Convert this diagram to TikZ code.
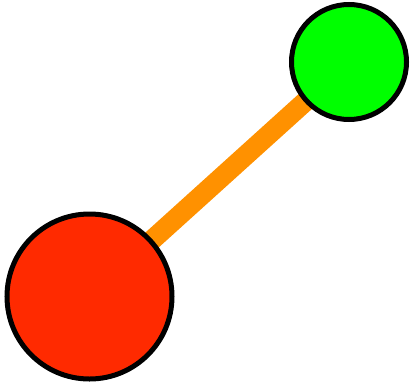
\documentclass[tikz,border=0pt]{standalone}
\usetikzlibrary{backgrounds}
\definecolor{ballred}{RGB}{255,42,0}
\definecolor{ballgreen}{RGB}{0,255,0}
\definecolor{linkorange}{RGB}{255,145,0}
\tikzset{
  ball/.style={circle,draw=black,line width=5pt,inner sep=0pt},
  link/.style={draw=linkorange,line width=20pt}
}
\begin{document}
\begin{tikzpicture}[x=1pt,y=1pt]
\useasboundingbox (0,0) rectangle (411,381);

\node[ball,fill=ballred,minimum size=165pt] (big) at (89.5,84.5) {};
\node[ball,fill=ballgreen,minimum size=115pt] (small) at (349,319) {};

\begin{scope}[on background layer]
\draw[link] (big.center) -- (small.center);
\end{scope}

\end{tikzpicture}
\end{document}
